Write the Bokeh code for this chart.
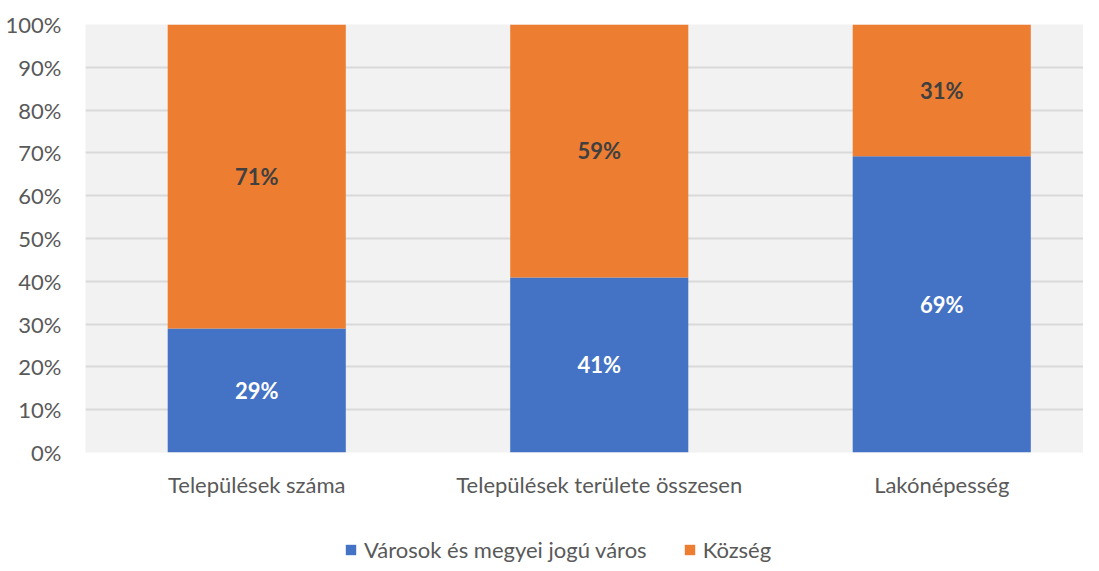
from bokeh.plotting import figure
from bokeh.layouts import column
from bokeh.models import ColumnDataSource, Range1d, FixedTicker, Legend, LegendItem, NumeralTickFormatter, LabelSet
from bokeh.embed import file_html
from bokeh.resources import INLINE
from bokeh.core.properties import value

categories = ["Települések száma", "Települések területe összesen", "Lakónépesség"]
varosok = [29.0, 40.9, 69.2]
kozseg = [71.0, 59.1, 30.8]
series_names = ["Városok és megyei jogú város", "Község"]
y_ticks = [0, 10, 20, 30, 40, 50, 60, 70, 80, 90, 100]

FONT = "Lato"
GREY = "#595959"
BLUE = "#4472C4"
ORANGE = "#ED7D31"
W = 1083
LEFT = 85

xpos = [0.5, 1.5, 2.5]
src = ColumnDataSource(dict(
    x=xpos,
    v_top=varosok,
    k_bottom=varosok,
    k_top=[a + b for a, b in zip(varosok, kozseg)],
    v_mid=[a / 2 for a in varosok],
    k_mid=[a + b / 2 for a, b in zip(varosok, kozseg)],
    v_lab=[f"{round(a)}%" for a in varosok],
    k_lab=[f"{round(b)}%" for b in kozseg],
))

p = figure(width=W, height=500, output_backend="svg", toolbar_location=None,
           x_range=Range1d(0, (W - LEFT) / 342.5), y_range=Range1d(0, 100))
p.min_border_left = LEFT
p.min_border_right = 0
p.min_border_top = 24
p.min_border_bottom = 0
p.outline_line_color = None
p.background_fill_color = "#F2F2F2"
p.border_fill_color = "white"

p.vbar(x="x", bottom=0, top="v_top", width=0.52, source=src, fill_color=BLUE, line_color=None)
p.vbar(x="x", bottom="k_bottom", top="k_top", width=0.52, source=src, fill_color=ORANGE, line_color=None)

p.add_layout(LabelSet(x="x", y="v_mid", text="v_lab", source=src, text_align="center", text_baseline="middle",
                      text_color="white", text_font=value(FONT), text_font_size="22px", text_font_style="bold"))
p.add_layout(LabelSet(x="x", y="k_mid", text="k_lab", source=src, text_align="center", text_baseline="middle",
                      text_color="#404040", text_font=value(FONT), text_font_size="22px", text_font_style="bold"))

p.yaxis.ticker = FixedTicker(ticks=y_ticks)
p.yaxis.formatter = NumeralTickFormatter(format="0")
p.yaxis.major_label_overrides = {t: f"{t}%" for t in y_ticks}
p.yaxis.axis_line_color = None
p.yaxis.major_tick_line_color = None
p.yaxis.minor_tick_line_color = None
p.yaxis.major_label_text_font = FONT
p.yaxis.major_label_text_font_size = "22px"
p.yaxis.major_label_text_color = GREY
p.yaxis.major_label_standoff = 18

p.xaxis.ticker = FixedTicker(ticks=xpos)
p.xaxis.major_label_overrides = {x: c for x, c in zip(xpos, categories)}
p.xaxis.axis_line_color = None
p.xaxis.major_tick_line_color = None
p.xaxis.minor_tick_line_color = None
p.xaxis.major_label_text_font = FONT
p.xaxis.major_label_text_font_size = "22px"
p.xaxis.major_label_text_color = GREY
p.xaxis.major_label_standoff = 12

p.xgrid.grid_line_color = None
p.ygrid.grid_line_color = "#D9D9D9"
p.ygrid.grid_line_width = 2

# legend strip
lg = figure(width=W, height=63, output_backend="svg", toolbar_location=None,
            x_range=Range1d(0, 1), y_range=Range1d(0, 1))
lg.min_border = 0
lg.axis.visible = False
lg.grid.visible = False
lg.outline_line_color = None
d1 = lg.vbar(x=[0.5], bottom=[0], top=[0], width=0.1, fill_color=BLUE, line_color=None)
d2 = lg.vbar(x=[0.5], bottom=[0], top=[0], width=0.1, fill_color=ORANGE, line_color=None)
legend = Legend(items=[LegendItem(label=series_names[0], renderers=[d1]),
                       LegendItem(label=series_names[1], renderers=[d2])],
                orientation="horizontal", location=(259, 0))
legend.border_line_color = None
legend.background_fill_alpha = 0
legend.label_text_font = FONT
legend.label_text_font_size = "22px"
legend.label_text_color = GREY
legend.glyph_width = 13
legend.glyph_height = 13
legend.label_standoff = 7
legend.spacing = 36
legend.padding = 0
legend.margin = 0
lg.add_layout(legend, "center")

open("out.html", "w").write(file_html(column(p, lg, spacing=0), INLINE))
